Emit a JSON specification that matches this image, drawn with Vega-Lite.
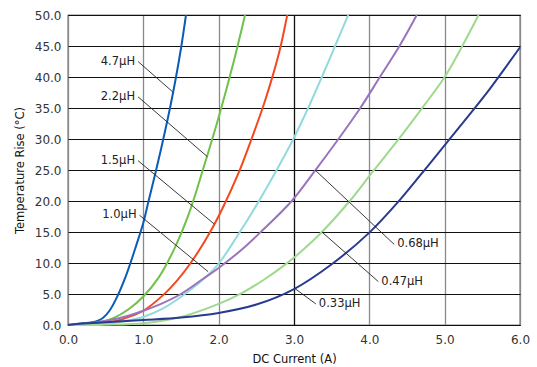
{
  "$schema": "https://vega.github.io/schema/vega-lite/v6.json",
  "width": 452,
  "height": 310,
  "autosize": {"type": "none"},
  "padding": {"left": 68, "top": 15, "right": 17, "bottom": 42},
  "background": "white",
  "config": {
    "view": {"stroke": "black", "strokeWidth": 1.2},
    "font": "DejaVu Sans",
    "axis": {"labelFont": "DejaVu Sans", "titleFont": "DejaVu Sans", "labelColor": "#333", "titleColor": "#111", "labelFontSize": 12, "titleFontSize": 11.5, "titleFontWeight": "normal", "domain": false, "ticks": false, "labelOverlap": false, "labelFlush": false}
  },
  "datasets": {
    "curves": [
      {"L": "4.7", "x": 0, "y": 0}, {"L": "4.7", "x": 0.1, "y": 0.15}, {"L": "4.7", "x": 0.2, "y": 0.3}, {"L": "4.7", "x": 0.3, "y": 0.4}, {"L": "4.7", "x": 0.4, "y": 0.7}, {"L": "4.7", "x": 0.47, "y": 1.2}, {"L": "4.7", "x": 0.55, "y": 2.3}, {"L": "4.7", "x": 0.65, "y": 4.5}, {"L": "4.7", "x": 0.78, "y": 8.3}, {"L": "4.7", "x": 0.91, "y": 13.0}, {"L": "4.7", "x": 1.0, "y": 16.5}, {"L": "4.7", "x": 1.06, "y": 19.5}, {"L": "4.7", "x": 1.17, "y": 25}, {"L": "4.7", "x": 1.265, "y": 30}, {"L": "4.7", "x": 1.354, "y": 35}, {"L": "4.7", "x": 1.434, "y": 40}, {"L": "4.7", "x": 1.505, "y": 45}, {"L": "4.7", "x": 1.566, "y": 50},
      {"L": "2.2", "x": 0, "y": 0}, {"L": "2.2", "x": 0.2, "y": 0.1}, {"L": "2.2", "x": 0.4, "y": 0.4}, {"L": "2.2", "x": 0.6, "y": 1.1}, {"L": "2.2", "x": 0.8, "y": 2.5}, {"L": "2.2", "x": 1.0, "y": 4.6}, {"L": "2.2", "x": 1.2, "y": 7.6}, {"L": "2.2", "x": 1.4, "y": 12.0}, {"L": "2.2", "x": 1.6, "y": 17.8}, {"L": "2.2", "x": 1.8, "y": 25.4}, {"L": "2.2", "x": 2.0, "y": 33.5}, {"L": "2.2", "x": 2.2, "y": 42.5}, {"L": "2.2", "x": 2.35, "y": 50},
      {"L": "1.5", "x": 0, "y": 0}, {"L": "1.5", "x": 0.3, "y": 0.1}, {"L": "1.5", "x": 0.5, "y": 0.35}, {"L": "1.5", "x": 0.7, "y": 0.85}, {"L": "1.5", "x": 0.85, "y": 1.5}, {"L": "1.5", "x": 1.0, "y": 2.3}, {"L": "1.5", "x": 1.27, "y": 4.9}, {"L": "1.5", "x": 1.45, "y": 7.2}, {"L": "1.5", "x": 1.64, "y": 10.2}, {"L": "1.5", "x": 1.9, "y": 15.3}, {"L": "1.5", "x": 2.05, "y": 18.8}, {"L": "1.5", "x": 2.26, "y": 24.4}, {"L": "1.5", "x": 2.43, "y": 29.8}, {"L": "1.5", "x": 2.6, "y": 35.6}, {"L": "1.5", "x": 2.72, "y": 40.3}, {"L": "1.5", "x": 2.82, "y": 44.8}, {"L": "1.5", "x": 2.91, "y": 50},
      {"L": "1.0", "x": 0, "y": 0}, {"L": "1.0", "x": 0.3, "y": 0.05}, {"L": "1.0", "x": 0.5, "y": 0.2}, {"L": "1.0", "x": 0.7, "y": 0.5}, {"L": "1.0", "x": 0.85, "y": 0.85}, {"L": "1.0", "x": 1.0, "y": 1.3}, {"L": "1.0", "x": 1.25, "y": 2.6}, {"L": "1.0", "x": 1.53, "y": 4.8}, {"L": "1.0", "x": 1.8, "y": 7.4}, {"L": "1.0", "x": 2.0, "y": 9.9}, {"L": "1.0", "x": 2.26, "y": 14.6}, {"L": "1.0", "x": 2.53, "y": 19.9}, {"L": "1.0", "x": 2.77, "y": 25}, {"L": "1.0", "x": 3.0, "y": 30.2}, {"L": "1.0", "x": 3.18, "y": 34.8}, {"L": "1.0", "x": 3.37, "y": 40}, {"L": "1.0", "x": 3.545, "y": 45}, {"L": "1.0", "x": 3.72, "y": 50},
      {"L": "0.68", "x": 0, "y": 0}, {"L": "0.68", "x": 0.2, "y": 0.2}, {"L": "0.68", "x": 0.4, "y": 0.5}, {"L": "0.68", "x": 0.6, "y": 0.9}, {"L": "0.68", "x": 0.8, "y": 1.5}, {"L": "0.68", "x": 1.0, "y": 2.3}, {"L": "0.68", "x": 1.25, "y": 3.5}, {"L": "0.68", "x": 1.5, "y": 5.0}, {"L": "0.68", "x": 1.8, "y": 7.5}, {"L": "0.68", "x": 2.0, "y": 9.2}, {"L": "0.68", "x": 2.3, "y": 12.1}, {"L": "0.68", "x": 2.55, "y": 14.9}, {"L": "0.68", "x": 2.97, "y": 20}, {"L": "0.68", "x": 3.28, "y": 24.9}, {"L": "0.68", "x": 3.59, "y": 30}, {"L": "0.68", "x": 3.88, "y": 35}, {"L": "0.68", "x": 4.14, "y": 40}, {"L": "0.68", "x": 4.4, "y": 45}, {"L": "0.68", "x": 4.63, "y": 50},
      {"L": "0.47", "x": 0, "y": 0}, {"L": "0.47", "x": 0.5, "y": 0.05}, {"L": "0.47", "x": 1.0, "y": 0.3}, {"L": "0.47", "x": 1.5, "y": 1.3}, {"L": "0.47", "x": 2.0, "y": 3.4}, {"L": "0.47", "x": 2.3, "y": 5.1}, {"L": "0.47", "x": 2.6, "y": 7.3}, {"L": "0.47", "x": 2.9, "y": 9.9}, {"L": "0.47", "x": 3.08, "y": 11.7}, {"L": "0.47", "x": 3.37, "y": 15}, {"L": "0.47", "x": 3.74, "y": 20}, {"L": "0.47", "x": 4.05, "y": 24.8}, {"L": "0.47", "x": 4.41, "y": 30.3}, {"L": "0.47", "x": 4.72, "y": 35.3}, {"L": "0.47", "x": 5.0, "y": 40}, {"L": "0.47", "x": 5.23, "y": 44.9}, {"L": "0.47", "x": 5.45, "y": 50},
      {"L": "0.33", "x": 0, "y": 0}, {"L": "0.33", "x": 0.2, "y": 0.25}, {"L": "0.33", "x": 0.5, "y": 0.45}, {"L": "0.33", "x": 1.0, "y": 0.8}, {"L": "0.33", "x": 1.5, "y": 1.2}, {"L": "0.33", "x": 2.0, "y": 1.95}, {"L": "0.33", "x": 2.5, "y": 3.3}, {"L": "0.33", "x": 3.0, "y": 5.8}, {"L": "0.33", "x": 3.5, "y": 9.8}, {"L": "0.33", "x": 4.0, "y": 14.9}, {"L": "0.33", "x": 4.4, "y": 20.1}, {"L": "0.33", "x": 4.8, "y": 26.0}, {"L": "0.33", "x": 5.2, "y": 32.0}, {"L": "0.33", "x": 5.6, "y": 38.1}, {"L": "0.33", "x": 6.0, "y": 44.8}
    ],
    "leaders": [
      {"label": "4.7μH", "side": "left", "x": 0.93, "y": 42.5, "x2": 1.39, "y2": 37.6},
      {"label": "2.2μH", "side": "left", "x": 0.93, "y": 36.8, "x2": 1.85, "y2": 27.15},
      {"label": "1.5μH", "side": "left", "x": 0.93, "y": 26.5, "x2": 1.94, "y2": 16.3},
      {"label": "1.0μH", "side": "left", "x": 0.95, "y": 17.7, "x2": 1.86, "y2": 8.6},
      {"label": "0.68μH", "side": "right", "x": 3.28, "y": 25.0, "x2": 4.33, "y2": 13.0},
      {"label": "0.47μH", "side": "right", "x": 3.37, "y": 15.0, "x2": 4.12, "y2": 7.0},
      {"label": "0.33μH", "side": "right", "x": 3.01, "y": 5.9, "x2": 3.29, "y2": 3.4}
    ]
  },
  "layer": [
    {
      "data": {"name": "curves"},
      "mark": {"type": "line", "strokeWidth": 2, "interpolate": "catmull-rom"},
      "encoding": {
        "x": {"field": "x", "type": "quantitative", "scale": {"domain": [0, 6], "nice": false}, "axis": {"values": [0, 1, 2, 3, 4, 5, 6], "format": ".1f", "title": "DC Current (A)", "labelPadding": 9, "titlePadding": 8, "grid": true, "gridColor": {"condition": {"test": "datum.value == 3", "value": "#111"}, "value": "#8a8a8a"}, "gridWidth": 1.3}},
        "y": {"field": "y", "type": "quantitative", "scale": {"domain": [0, 50], "nice": false}, "axis": {"values": [0, 5, 10, 15, 20, 25, 30, 35, 40, 45, 50], "format": ".1f", "title": "Temperature Rise (°C)", "labelPadding": 7, "titlePadding": 9, "grid": true, "gridColor": "#111", "gridWidth": 1.2}},
        "color": {"field": "L", "type": "nominal", "legend": null, "scale": {"domain": ["4.7", "2.2", "1.5", "1.0", "0.68", "0.47", "0.33"], "range": ["#0a5cb6", "#6fc14b", "#f4491f", "#93dadf", "#9b73bd", "#9fd98e", "#283b8f"]}},
        "detail": {"field": "L"}
      }
    },
    {
      "data": {"name": "leaders"},
      "mark": {"type": "rule", "color": "#222", "strokeWidth": 0.9},
      "encoding": {
        "x": {"field": "x", "type": "quantitative", "scale": {"domain": [0, 6], "nice": false}, "axis": {"values": [0, 1, 2, 3, 4, 5, 6], "format": ".1f", "title": "DC Current (A)", "labelPadding": 9, "titlePadding": 8, "grid": true, "gridColor": {"condition": {"test": "datum.value == 3", "value": "#111"}, "value": "#8a8a8a"}, "gridWidth": 1.3}},
        "y": {"field": "y", "type": "quantitative", "scale": {"domain": [0, 50], "nice": false}, "axis": {"values": [0, 5, 10, 15, 20, 25, 30, 35, 40, 45, 50], "format": ".1f", "title": "Temperature Rise (°C)", "labelPadding": 7, "titlePadding": 9, "grid": true, "gridColor": "#111", "gridWidth": 1.2}},
        "x2": {"field": "x2"},
        "y2": {"field": "y2"}
      }
    },
    {
      "data": {"name": "leaders"},
      "transform": [{"filter": "datum.side == 'left'"}],
      "mark": {"type": "text", "align": "right", "baseline": "middle", "dx": -3, "fontSize": 11.5, "color": "#222", "font": "DejaVu Sans"},
      "encoding": {
        "x": {"field": "x", "type": "quantitative", "scale": {"domain": [0, 6], "nice": false}, "axis": {"values": [0, 1, 2, 3, 4, 5, 6], "format": ".1f", "title": "DC Current (A)", "labelPadding": 9, "titlePadding": 8, "grid": true, "gridColor": {"condition": {"test": "datum.value == 3", "value": "#111"}, "value": "#8a8a8a"}, "gridWidth": 1.3}},
        "y": {"field": "y", "type": "quantitative", "scale": {"domain": [0, 50], "nice": false}, "axis": {"values": [0, 5, 10, 15, 20, 25, 30, 35, 40, 45, 50], "format": ".1f", "title": "Temperature Rise (°C)", "labelPadding": 7, "titlePadding": 9, "grid": true, "gridColor": "#111", "gridWidth": 1.2}},
        "text": {"field": "label"}
      }
    },
    {
      "data": {"name": "leaders"},
      "transform": [{"filter": "datum.side == 'right'"}],
      "mark": {"type": "text", "align": "left", "baseline": "middle", "dx": 3, "fontSize": 11.5, "color": "#222", "font": "DejaVu Sans"},
      "encoding": {
        "x": {"field": "x2", "type": "quantitative", "scale": {"domain": [0, 6], "nice": false}, "axis": {"values": [0, 1, 2, 3, 4, 5, 6], "format": ".1f", "title": "DC Current (A)", "labelPadding": 9, "titlePadding": 8, "grid": true, "gridColor": {"condition": {"test": "datum.value == 3", "value": "#111"}, "value": "#8a8a8a"}, "gridWidth": 1.3}},
        "y": {"field": "y2", "type": "quantitative", "scale": {"domain": [0, 50], "nice": false}, "axis": {"values": [0, 5, 10, 15, 20, 25, 30, 35, 40, 45, 50], "format": ".1f", "title": "Temperature Rise (°C)", "labelPadding": 7, "titlePadding": 9, "grid": true, "gridColor": "#111", "gridWidth": 1.2}},
        "text": {"field": "label"}
      }
    }
  ]
}
